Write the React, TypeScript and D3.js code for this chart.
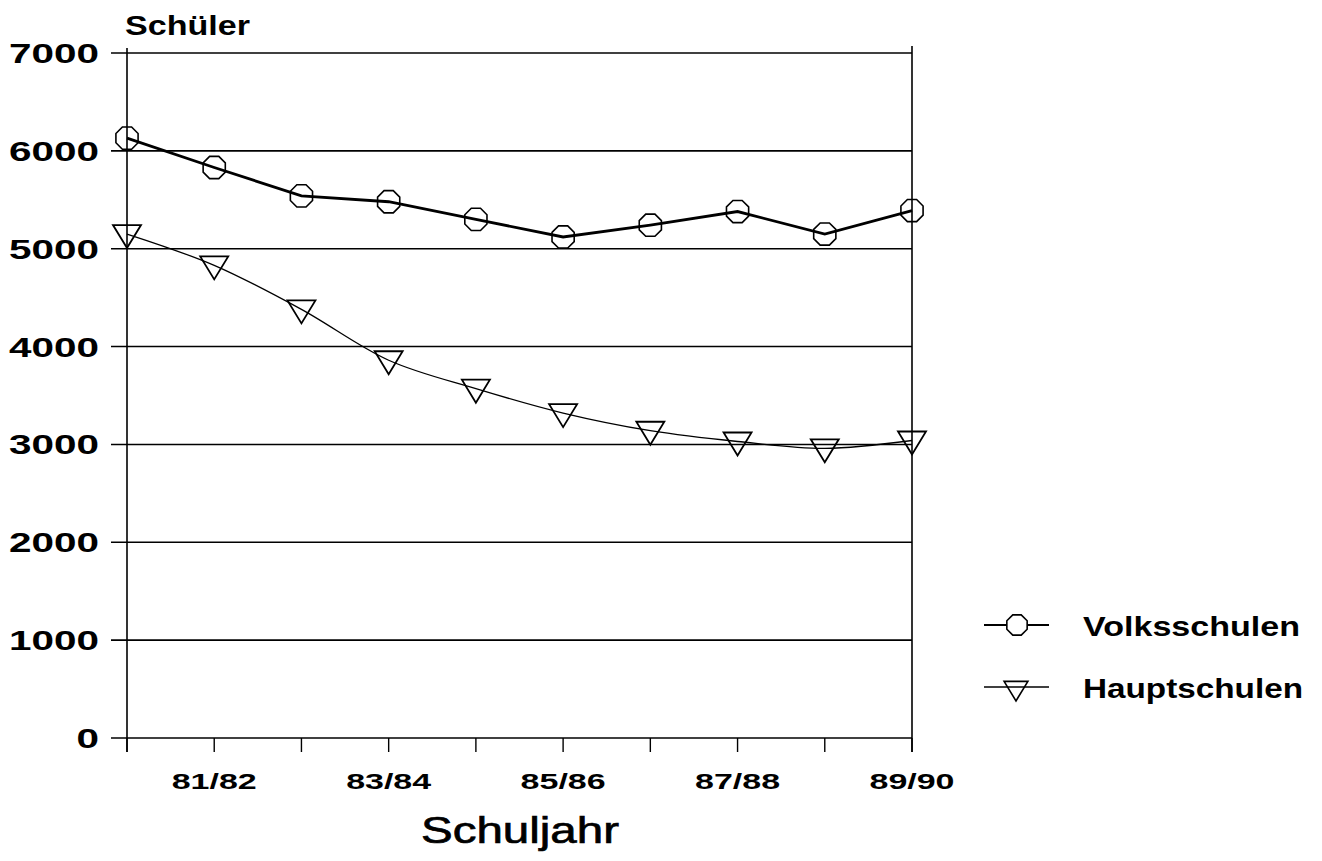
import React from "react";
import * as d3 from "d3";

const years = ["80/81", "81/82", "82/83", "83/84", "84/85", "85/86", "86/87", "87/88", "88/89", "89/90"];
const labeledYears = ["81/82", "83/84", "85/86", "87/88", "89/90"];
const volksschulen = [6130, 5830, 5540, 5480, 5300, 5120, 5240, 5380, 5150, 5390];
const hauptschulen = [5150, 4830, 4380, 3860, 3570, 3320, 3140, 3030, 2960, 3040];
const yTicks = [0, 1000, 2000, 3000, 4000, 5000, 6000, 7000];

const W = 1322;
const H = 861;
const FONT = "'Liberation Sans', Arial, Helvetica, sans-serif";

export default function App() {
  const x = d3.scalePoint<string>().domain(years).range([127, 912]);
  const y = d3.scaleLinear().domain([0, 7000]).range([738, 53]);

  const lineV = d3
    .line<number>()
    .x((_, i) => x(years[i]) as number)
    .y((d) => y(d));
  const lineH = d3
    .line<number>()
    .x((_, i) => x(years[i]) as number)
    .y((d) => y(d))
    .curve(d3.curveCatmullRom.alpha(0.5));

  const octagon = (cx: number, cy: number, r: number) => {
    const pts: string[] = [];
    for (let k = 0; k < 8; k++) {
      const a = (Math.PI / 8) * (2 * k + 1);
      pts.push(`${cx + r * Math.cos(a)},${cy + r * Math.sin(a)}`);
    }
    return pts.join(" ");
  };
  const triangle = (cx: number, cy: number, s = 1) =>
    `${cx - 14 * s},${cy - 9 * s} ${cx + 14 * s},${cy - 9 * s} ${cx},${cy + 14 * s}`;

  return (
    <svg
      width={W}
      height={H}
      style={{ position: "absolute", left: 0, top: 0, background: "#fff" }}
      fontFamily={FONT}
    >
      {/* gridlines */}
      {yTicks.map((t) => {
        const s = String(t);
        return (
          <g key={t}>
            <line x1={111} x2={912} y1={y(t)} y2={y(t)} stroke="#000" strokeWidth={1.6} />
            <text
              x={99}
              y={y(t) + 10}
              textAnchor="end"
              fontSize={28}
              fontWeight="bold"
              fill="#000"
              textLength={s.length * 22.5}
              lengthAdjust="spacingAndGlyphs"
            >
              {s}
            </text>
          </g>
        );
      })}
      {/* axes frame */}
      <line x1={127} x2={127} y1={48} y2={752} stroke="#000" strokeWidth={1.6} />
      <line x1={912} x2={912} y1={46} y2={752} stroke="#000" strokeWidth={1.6} />
      {years.map((yr) => (
        <line
          key={yr}
          x1={x(yr)}
          x2={x(yr)}
          y1={y(0)}
          y2={y(0) + 14}
          stroke="#000"
          strokeWidth={1.4}
        />
      ))}
      {labeledYears.map((yr) => (
        <text
          key={yr}
          x={x(yr)}
          y={789}
          textAnchor="middle"
          fontSize={22}
          fontWeight="bold"
          fill="#000"
          textLength={85}
          lengthAdjust="spacingAndGlyphs"
        >
          {yr}
        </text>
      ))}
      <text
        x={125}
        y={35}
        fontSize={28}
        fontWeight="bold"
        fill="#000"
        textLength={125}
        lengthAdjust="spacingAndGlyphs"
      >
        Schüler
      </text>
      <text
        x={421}
        y={843}
        fontSize={37}
        fill="#000"
        textLength={198}
        lengthAdjust="spacingAndGlyphs"
        stroke="#000"
        strokeWidth={0.7}
      >
        Schuljahr
      </text>

      {/* series */}
      <path d={lineV(volksschulen) || ""} fill="none" stroke="#000" strokeWidth={2.8} />
      <path d={lineH(hauptschulen) || ""} fill="none" stroke="#000" strokeWidth={1.3} />
      {volksschulen.map((v, i) => (
        <polygon
          key={"v" + i}
          points={octagon(x(years[i]) as number, y(v), 12)}
          fill="none"
          stroke="#000"
          strokeWidth={1.6}
        />
      ))}
      {hauptschulen.map((v, i) => (
        <polygon
          key={"h" + i}
          points={triangle(x(years[i]) as number, y(v))}
          fill="none"
          stroke="#000"
          strokeWidth={1.8}
        />
      ))}

      {/* legend */}
      <line x1={984} x2={1049} y1={625} y2={625} stroke="#000" strokeWidth={1.8} />
      <polygon points={octagon(1017, 625, 11)} fill="#fff" stroke="#000" strokeWidth={1.6} />
      <text
        x={1083}
        y={636}
        fontSize={28}
        fontWeight="bold"
        fill="#000"
        textLength={217}
        lengthAdjust="spacingAndGlyphs"
      >
        Volksschulen
      </text>
      <line x1={984} x2={1049} y1={687} y2={687} stroke="#000" strokeWidth={1.3} />
      <polygon points={triangle(1016, 689, 0.85)} fill="none" stroke="#000" strokeWidth={1.6} />
      <text
        x={1083}
        y={698}
        fontSize={28}
        fontWeight="bold"
        fill="#000"
        textLength={220}
        lengthAdjust="spacingAndGlyphs"
      >
        Hauptschulen
      </text>
    </svg>
  );
}
